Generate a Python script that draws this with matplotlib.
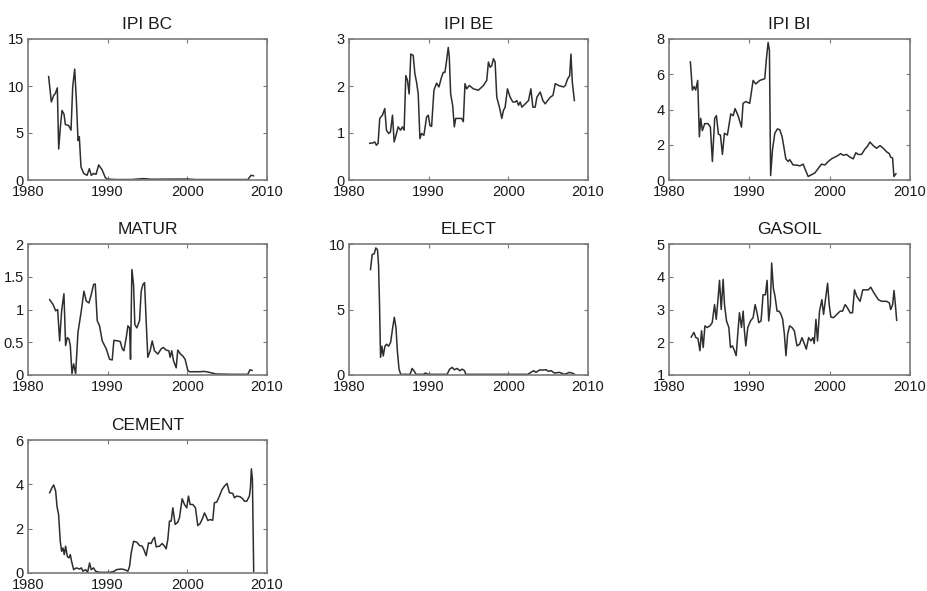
import matplotlib
matplotlib.use('Agg')
import matplotlib.pyplot as plt
from matplotlib.ticker import FormatStrFormatter

plt.rcParams['font.family'] = ['Liberation Sans', 'DejaVu Sans']

# Series (year, value)
bc_t = [1982.59, 1982.93, 1983.22, 1983.43, 1983.68, 1983.85, 1984.06, 1984.27, 1984.52, 1984.69,
        1985.10, 1985.40, 1985.61, 1985.86, 1986.07, 1986.28, 1986.44, 1986.65, 1986.99, 1987.41,
        1987.70, 1987.95, 1988.24, 1988.54, 1988.87, 1989.29, 1989.71, 1989.92, 1991.0, 1993.0,
        1994.5, 1995.5, 2000.0, 2001.0, 2007.6, 2008.0, 2008.3]
bc_v = [11.0, 8.3, 9.0, 9.2, 9.8, 3.3, 5.6, 7.4, 7.0, 5.9,
        5.8, 5.3, 9.9, 11.8, 8.5, 4.2, 4.6, 1.4, 0.7, 0.5,
        1.2, 0.5, 0.7, 0.6, 1.6, 1.1, 0.25, 0.1, 0.05, 0.05,
        0.15, 0.08, 0.1, 0.05, 0.05, 0.5, 0.45]

be_t = [1982.60, 1983.02, 1983.23, 1983.44, 1983.65, 1983.86, 1984.20, 1984.49, 1984.70, 1984.99,
        1985.20, 1985.46, 1985.67, 1985.96, 1986.17, 1986.46, 1986.71, 1986.92, 1987.13, 1987.34,
        1987.55, 1987.76, 1988.06, 1988.27, 1988.48, 1988.69, 1988.90, 1989.11, 1989.40, 1989.74,
        1989.95, 1990.16, 1990.37, 1990.66, 1990.99, 1991.29, 1991.62, 1991.83, 1992.04, 1992.25,
        1992.46, 1992.59, 1992.76, 1993.01, 1993.22, 1993.39, 1993.72, 1994.14, 1994.35, 1994.56,
        1994.77, 1995.11, 1995.61, 1996.24, 1996.87, 1997.29, 1997.50, 1997.71, 1997.92, 1998.13,
        1998.34, 1998.55, 1998.88, 1999.18, 1999.39, 1999.60, 1999.89, 2000.23, 2000.56, 2000.86,
        2001.07, 2001.28, 2001.49, 2001.70, 2002.12, 2002.53, 2002.83, 2003.08, 2003.37, 2003.58,
        2004.00, 2004.34, 2004.63, 2004.93, 2005.26, 2005.60, 2005.89, 2006.31, 2006.94, 2007.15,
        2007.44, 2007.70, 2007.86, 2008.03, 2008.29]
be_v = [0.78, 0.79, 0.81, 0.74, 0.78, 1.31, 1.38, 1.52, 1.06, 0.99,
        1.02, 1.38, 0.81, 0.99, 1.13, 1.06, 1.13, 1.06, 2.22, 2.12,
        1.83, 2.68, 2.65, 2.26, 2.08, 1.83, 0.88, 0.99, 0.95, 1.34,
        1.38, 1.16, 1.14, 1.91, 2.06, 1.98, 2.19, 2.29, 2.29, 2.54,
        2.82, 2.61, 1.83, 1.59, 1.13, 1.31, 1.31, 1.31, 1.24, 2.05,
        1.94, 2.01, 1.94, 1.91, 2.01, 2.12, 2.51, 2.40, 2.43, 2.58,
        2.51, 1.76, 1.55, 1.31, 1.48, 1.55, 1.94, 1.76, 1.66, 1.66,
        1.69, 1.59, 1.66, 1.55, 1.62, 1.69, 1.94, 1.55, 1.55, 1.76,
        1.87, 1.69, 1.62, 1.69, 1.76, 1.80, 2.05, 2.01, 1.98, 2.01,
        2.15, 2.22, 2.68, 2.08, 1.69]

bi_t = [1982.66, 1982.91, 1983.12, 1983.32, 1983.57, 1983.78, 1983.95, 1984.15, 1984.45, 1984.86,
        1985.15, 1985.40, 1985.69, 1985.90, 1986.15, 1986.40, 1986.65, 1986.90, 1987.27, 1987.69,
        1987.98, 1988.23, 1988.60, 1989.02, 1989.22, 1989.56, 1990.05, 1990.47, 1990.80, 1991.30,
        1991.92, 1992.13, 1992.34, 1992.50, 1992.65, 1992.88, 1993.17, 1993.50, 1993.79, 1994.08,
        1994.29, 1994.54, 1994.83, 1995.04, 1995.45, 1995.87, 1996.29, 1996.70, 1996.91, 1997.32,
        1997.74, 1998.16, 1998.57, 1998.99, 1999.40, 1999.82, 2000.23, 2000.65, 2001.07, 2001.36,
        2001.69, 2002.10, 2002.52, 2002.93, 2003.26, 2003.55, 2003.97, 2004.38, 2004.68, 2005.01,
        2005.43, 2005.84, 2006.26, 2006.67, 2007.09, 2007.42, 2007.59, 2007.83, 2008.00, 2008.25]
bi_v = [6.7, 5.1, 5.3, 5.1, 5.65, 2.45, 3.5, 2.8, 3.2, 3.2,
        3.0, 1.05, 3.5, 3.65, 2.6, 2.55, 1.45, 2.65, 2.55, 3.75,
        3.65, 4.05, 3.65, 3.0, 4.35, 4.45, 4.35, 5.65, 5.45, 5.65,
        5.75, 6.9, 7.8, 7.35, 0.25, 1.7, 2.65, 2.9, 2.85, 2.45,
        1.9, 1.2, 1.05, 1.15, 0.85, 0.85, 0.8, 0.9, 0.65, 0.2,
        0.3, 0.4, 0.65, 0.9, 0.85, 1.05, 1.2, 1.3, 1.4, 1.5,
        1.4, 1.45, 1.3, 1.2, 1.55, 1.45, 1.45, 1.75, 1.9, 2.15,
        1.95, 1.8, 1.95, 1.8, 1.6, 1.5, 1.3, 1.25, 0.2, 0.35]

matur_t = [1982.72, 1983.13, 1983.47, 1983.72, 1983.97, 1984.22, 1984.51, 1984.72, 1984.93, 1985.14,
           1985.31, 1985.52, 1985.73, 1985.98, 1986.27, 1986.69, 1987.02, 1987.31, 1987.65, 1987.94,
           1988.23, 1988.44, 1988.69, 1988.98, 1989.32, 1989.82, 1990.24, 1990.57, 1990.78, 1991.28,
           1991.58, 1991.83, 1992.04, 1992.33, 1992.54, 1992.75, 1992.87, 1993.04, 1993.25, 1993.41,
           1993.66, 1994.00, 1994.21, 1994.42, 1994.63, 1994.83, 1995.04, 1995.34, 1995.59, 1995.88,
           1996.30, 1996.72, 1997.01, 1997.34, 1997.68, 1997.84, 1998.05, 1998.26, 1998.60, 1998.80,
           1999.14, 1999.43, 1999.72, 2000.06, 2000.27, 2001.52, 2002.15, 2002.77, 2003.61, 2005.70,
           2007.58, 2007.87, 2008.12]
matur_v = [1.15, 1.08, 0.98, 1.0, 0.52, 0.98, 1.24, 0.45, 0.57, 0.55,
           0.45, 0.02, 0.17, 0.02, 0.65, 0.98, 1.28, 1.13, 1.1, 1.23,
           1.38, 1.39, 0.83, 0.75, 0.52, 0.4, 0.24, 0.23, 0.53, 0.52,
           0.51, 0.4, 0.37, 0.57, 0.75, 0.72, 0.24, 1.61, 1.38, 0.77,
           0.72, 0.83, 1.28, 1.38, 1.41, 0.83, 0.27, 0.37, 0.52, 0.37,
           0.32, 0.4, 0.42, 0.38, 0.37, 0.27, 0.37, 0.22, 0.11, 0.38,
           0.32, 0.29, 0.24, 0.07, 0.05, 0.05, 0.055, 0.04, 0.015, 0.01,
           0.01, 0.08, 0.07]

elect_t = [1982.70, 1982.91, 1983.16, 1983.37, 1983.58, 1983.71, 1983.83, 1983.96, 1984.13, 1984.30,
           1984.51, 1984.72, 1984.97, 1985.23, 1985.48, 1985.69, 1985.90, 1986.07, 1986.28, 1986.49,
           1987.67, 1987.92, 1988.18, 1988.43, 1989.36, 1989.57, 1989.99, 1992.31, 1992.64, 1992.94,
           1993.23, 1993.57, 1993.91, 1994.20, 1994.50, 1994.66, 2002.42, 2002.84, 2003.18, 2003.47,
           2003.90, 2004.32, 2004.74, 2005.03, 2005.37, 2005.79, 2006.42, 2007.05, 2007.69, 2008.11,
           2008.32]
elect_v = [8.05, 9.2, 9.25, 9.7, 9.55, 8.4, 5.4, 1.35, 2.2, 1.45,
           2.2, 2.35, 2.2, 2.5, 3.6, 4.4, 3.6, 1.85, 0.45, 0.05,
           0.05, 0.5, 0.3, 0.05, 0.05, 0.15, 0.05, 0.05, 0.45, 0.58,
           0.4, 0.5, 0.33, 0.45, 0.33, 0.05, 0.05, 0.2, 0.33, 0.2,
           0.38, 0.38, 0.4, 0.28, 0.33, 0.15, 0.2, 0.05, 0.2, 0.12,
           0.05]

gas_t = [1982.77, 1983.10, 1983.35, 1983.60, 1983.85, 1984.05, 1984.26, 1984.47, 1984.76, 1985.09,
         1985.38, 1985.67, 1985.88, 1986.08, 1986.29, 1986.50, 1986.74, 1986.91, 1987.16, 1987.45,
         1987.65, 1987.90, 1988.15, 1988.36, 1988.56, 1988.77, 1989.02, 1989.23, 1989.39, 1989.56,
         1989.81, 1990.14, 1990.47, 1990.72, 1990.96, 1991.17, 1991.46, 1991.71, 1992.00, 1992.21,
         1992.41, 1992.62, 1992.78, 1992.99, 1993.20, 1993.45, 1993.69, 1993.94, 1994.15, 1994.36,
         1994.56, 1994.77, 1995.02, 1995.31, 1995.60, 1995.93, 1996.26, 1996.55, 1996.84, 1997.09,
         1997.38, 1997.67, 1997.91, 1998.08, 1998.29, 1998.49, 1998.74, 1999.03, 1999.24, 1999.45,
         1999.74, 1999.94, 2000.15, 2000.48, 2000.89, 2001.31, 2001.60, 2001.93, 2002.22, 2002.55,
         2002.84, 2003.09, 2003.38, 2003.79, 2004.12, 2004.53, 2004.82, 2005.11, 2005.53, 2006.07,
         2006.48, 2007.10, 2007.43, 2007.60, 2007.84, 2008.01, 2008.18, 2008.34]
gas_v = [2.16, 2.3, 2.14, 2.12, 1.74, 2.35, 1.84, 2.5, 2.45, 2.5,
         2.6, 3.15, 2.7, 3.25, 3.89, 3.0, 3.92, 3.15, 2.65, 2.45,
         1.84, 1.89, 1.74, 1.59, 2.25, 2.9, 2.45, 2.95, 2.35, 1.89,
         2.45, 2.65, 2.75, 3.15, 2.9, 2.6, 2.65, 3.45, 3.45, 3.89,
         2.65, 3.15, 4.42, 3.65, 3.4, 2.95, 2.95, 2.85, 2.7, 2.25,
         1.59, 2.25, 2.5, 2.45, 2.35, 1.89, 1.94, 2.14, 1.96, 1.79,
         2.14, 2.04, 2.14, 1.96, 2.7, 2.04, 2.95, 3.3, 2.85, 3.25,
         3.8, 3.15, 2.77, 2.75, 2.85, 2.95, 2.95, 3.15, 3.05, 2.9,
         2.9, 3.6, 3.4, 3.25, 3.6, 3.6, 3.6, 3.68, 3.5, 3.3,
         3.25, 3.25, 3.2, 3.0, 3.15, 3.58, 3.15, 2.67]

cem_t = [1982.72, 1983.01, 1983.22, 1983.47, 1983.64, 1983.84, 1984.05, 1984.22, 1984.39, 1984.55,
         1984.72, 1984.93, 1985.14, 1985.31, 1985.47, 1985.73, 1986.06, 1986.48, 1986.69, 1986.90,
         1987.23, 1987.48, 1987.73, 1987.94, 1988.23, 1988.48, 1988.98, 1990.24, 1990.87, 1991.07,
         1991.70, 1992.12, 1992.54, 1992.75, 1992.95, 1993.25, 1993.66, 1994.00, 1994.33, 1994.54,
         1994.83, 1995.13, 1995.46, 1995.67, 1995.88, 1996.09, 1996.51, 1996.84, 1997.13, 1997.34,
         1997.55, 1997.76, 1997.97, 1998.18, 1998.47, 1998.80, 1999.01, 1999.35, 1999.64, 1999.93,
         2000.14, 2000.35, 2000.69, 2001.02, 2001.31, 2001.60, 2001.94, 2002.15, 2002.36, 2002.57,
         2002.86, 2003.19, 2003.40, 2003.69, 2004.03, 2004.36, 2004.66, 2004.99, 2005.28, 2005.70,
         2005.91, 2006.20, 2006.62, 2006.95, 2007.16, 2007.46, 2007.79, 2007.92, 2008.04, 2008.17,
         2008.33]
cem_v = [3.62, 3.85, 3.97, 3.7, 3.0, 2.64, 1.43, 0.98, 1.13, 0.83,
         1.21, 0.75, 0.68, 0.83, 0.53, 0.15, 0.23, 0.18, 0.23, 0.08,
         0.15, 0.03, 0.45, 0.15, 0.23, 0.08, 0.03, 0.03, 0.08, 0.15,
         0.18, 0.15, 0.08, 0.3, 0.9, 1.43, 1.39, 1.24, 1.21, 1.06,
         0.78, 1.36, 1.33, 1.51, 1.61, 1.18, 1.21, 1.33, 1.21, 1.09,
         1.51, 2.34, 2.34, 2.94, 2.19, 2.29, 2.49, 3.35, 3.09, 2.94,
         3.47, 3.09, 3.09, 2.94, 2.14, 2.23, 2.49, 2.71, 2.56, 2.37,
         2.41, 2.38, 3.17, 3.2, 3.47, 3.77, 3.92, 4.04, 3.62, 3.59,
         3.39, 3.47, 3.44, 3.35, 3.24, 3.24, 3.47, 3.85, 4.7, 4.22,
         0.08]

titles = ['IPI BC', 'IPI BE', 'IPI BI', 'MATUR', 'ELECT', 'GASOIL', 'CEMENT']
series = [(bc_t, bc_v), (be_t, be_v), (bi_t, bi_v), (matur_t, matur_v),
          (elect_t, elect_v), (gas_t, gas_v), (cem_t, cem_v)]
y_ticks = [[0, 5, 10, 15], [0, 1, 2, 3], [0, 2, 4, 6, 8], [0, 0.5, 1, 1.5, 2],
           [0, 5, 10], [1, 2, 3, 4, 5], [0, 2, 4, 6]]
x_ticks = [1980, 1990, 2000, 2010]

W, H = 927, 591
fig = plt.figure(figsize=(W / 100, H / 100), dpi=100)

# axes boxes in pixels: (left, right) per column, (top, bottom) per row
cols = [(28, 267), (349, 588), (669, 910)]
rows = [(39, 180), (244, 375), (440, 573)]

frame_col = '#7a7a7a'
for i, (name, (t, v)) in enumerate(zip(titles, series)):
    r, c = divmod(i, 3)
    x0, x1 = cols[c]
    y0, y1 = rows[r]
    ax = fig.add_axes([x0 / W, 1 - y1 / H, (x1 - x0) / W, (y1 - y0) / H])
    ax.plot(t, v, color='#2e2e2e', lw=1.1)
    ax.set_xlim(1980, 2010)
    ax.set_ylim(y_ticks[i][0], y_ticks[i][-1])
    ax.set_xticks(x_ticks)
    ax.set_yticks(y_ticks[i])
    ax.yaxis.set_major_formatter(FormatStrFormatter('%g'))
    ax.tick_params(direction='in', length=3, width=0.8, color=frame_col,
                   top=True, right=True, labelsize=10.5, labelcolor='#1a1a1a')
    ax.tick_params(axis='x', pad=3.5)
    ax.tick_params(axis='y', pad=3)
    for s in ax.spines.values():
        s.set_color(frame_col)
        s.set_linewidth(1.2)
    ax.set_title(name, fontsize=12.5, color='#1a1a1a', pad=7.5)

fig.savefig('out.png', dpi=100, facecolor='white')
